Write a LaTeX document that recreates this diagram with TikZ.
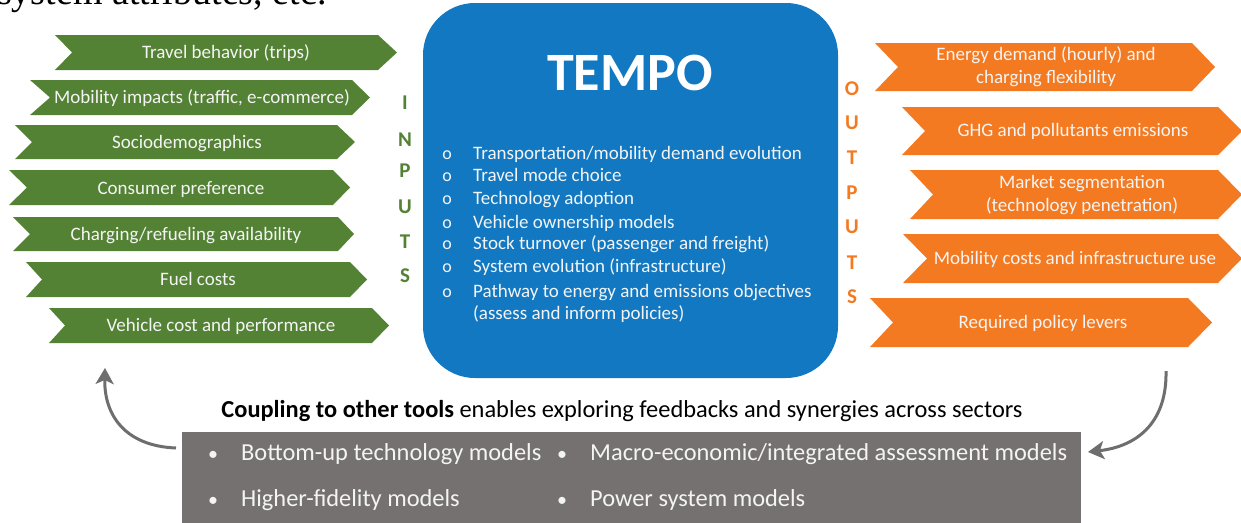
\documentclass[tikz,border=0pt]{standalone}
\usepackage{fontspec}
\setmainfont{Carlito}
\newfontfamily\docserif{Liberation Serif}
\usetikzlibrary{arrows.meta}
\definecolor{ingreen}{HTML}{548235}
\definecolor{outorange}{HTML}{F47A21}
\definecolor{tempoblue}{HTML}{1278C1}
\definecolor{couplegray}{HTML}{767171}
\definecolor{arrowgray}{HTML}{6E6E6E}
\definecolor{lighttext}{HTML}{F4F4F4}
\newcommand\chevshape[7]{% left, notch, body right, tip, top, bottom, colour
  \fill[#7] (#1,#5) -- (#3,#5) -- (#4,{(#5+#6)/2}) -- (#3,#6) -- (#1,#6) -- ({#1+#2},{(#5+#6)/2}) -- cycle;}
\tikzset{
  intext/.style={text=lighttext, font=\fontsize{19}{22}\selectfont, anchor=base, inner sep=0pt},
  outtext/.style={text=lighttext, font=\fontsize{19}{23}\selectfont, align=center, inner sep=0pt},
  inletter/.style={text=ingreen, font=\fontsize{21}{22}\selectfont\bfseries, inner sep=0pt},
  outletter/.style={text=outorange, font=\fontsize{21}{22}\selectfont\bfseries, inner sep=0pt},
  tempoitem/.style={text=lighttext, font=\fontsize{19}{22}\selectfont, anchor=base west, inner sep=0pt},
  tempobullet/.style={text=lighttext, font=\fontsize{18}{20}\selectfont, anchor=base, inner sep=0pt},
  toolitem/.style={text=lighttext, font=\fontsize{24.4}{28}\selectfont, anchor=base west, inner sep=0pt},
  toolbullet/.style={text=lighttext, font=\fontsize{20}{26}\selectfont, anchor=base, inner sep=0pt},
  loop/.style={draw=arrowgray, line width=3pt, -{Stealth[length=16pt,width=18pt,inset=4pt]}},
}
\begin{document}
\begin{tikzpicture}[x=1pt,y=-1pt]
\useasboundingbox (0,0) rectangle (1241,522);
\fill[white] (0,0) rectangle (1241,522);

% cut-off line of the surrounding text
\node[anchor=base west, inner sep=0pt, font=\docserif\fontsize{38}{40}\selectfont] (prev) at (-3,5) {system attributes, etc.};

% ---------- inputs ----------
\chevshape{55}{17}{378}{397}{35}{70}{ingreen}
\node[intext] (in1) at (226,58) {Travel behavior (trips)};
\chevshape{30}{20}{352}{370}{80}{115}{ingreen}
\node[intext] (in2) at (202,103) {Mobility impacts (traffic, e-commerce)};
\chevshape{15}{17}{337}{355}{125}{159}{ingreen}
\node[intext] (in3) at (187,148) {Sociodemographics};
\chevshape{9}{18}{333}{350}{170}{205}{ingreen}
\node[intext] (in4) at (181,194) {Consumer preference};
\chevshape{13}{17}{338}{354}{217}{251}{ingreen}
\node[intext] (in5) at (186,240) {Charging/refueling availability};
\chevshape{26}{16}{350}{367}{262}{297}{ingreen}
\node[intext] (in6) at (198,285) {Fuel costs};
\chevshape{49}{16}{372}{389}{308}{343}{ingreen}
\node[intext] (in7) at (221,331) {Vehicle cost and performance};

\node[inletter] (lI) at (405,103) {I};
\node[inletter] (lN) at (405,140) {N};
\node[inletter] (lP) at (405,171) {P};
\node[inletter] (lU) at (405,207) {U};
\node[inletter] (lT) at (405,242) {T};
\node[inletter] (lS) at (405,276) {S};

% ---------- TEMPO ----------
\node[fill=tempoblue, rounded corners=52pt, minimum width=415pt, minimum height=375pt, inner sep=0pt] (tempo) at (630.5,190.5) {};
\node[text=white, font=\fontsize{54}{60}\selectfont\bfseries, inner sep=0pt] (title) at (630,73) {TEMPO};
\foreach \y/\t [count=\i] in {159/{Transportation/mobility demand evolution},
                  181/{Travel mode choice},
                  204/{Technology adoption},
                  228/{Vehicle ownership models},
                  249/{Stock turnover (passenger and freight)},
                  272/{System evolution (infrastructure)},
                  297/{Pathway to energy and emissions objectives}}{
  \node[tempobullet] (b\i) at (447,\y) {o};
  \node[tempoitem] (t\i) at (473,\y) {\t};
}
\node[tempoitem] (t8) at (473,319) {(assess and inform policies)};

% ---------- outputs ----------
\chevshape{875}{23}{1192}{1215}{43}{91}{outorange}
\node[outtext] (out1) at (1046,67) {Energy demand (hourly) and\\charging flexibility};
\chevshape{902}{23}{1218}{1242}{107}{155}{outorange}
\node[outtext] (out2) at (1073,131) {GHG and pollutants emissions};
\chevshape{910}{23}{1218}{1242}{170}{219}{outorange}
\node[outtext] (out3) at (1082,195) {Market segmentation\\(technology penetration)};
\chevshape{903}{24}{1218}{1242}{234}{283}{outorange}
\node[outtext] (out4) at (1075,259) {Mobility costs and infrastructure use};
\chevshape{870}{23}{1188}{1212}{298}{347}{outorange}
\node[outtext] (out5) at (1043,323) {Required policy levers};

\node[outletter] (oO) at (852,89) {O};
\node[outletter] (oU) at (852,123) {U};
\node[outletter] (oT) at (852,158) {T};
\node[outletter] (oP) at (852,193) {P};
\node[outletter] (oU2) at (852,227) {U};
\node[outletter] (oT2) at (852,263) {T};
\node[outletter] (oS) at (852,297) {S};

% ---------- coupling ----------
\node[anchor=base, inner sep=0pt, font=\fontsize{24.4}{28}\selectfont] (coupling) at (622,417)
  {\textbf{Coupling to other tools} enables exploring feedbacks and synergies across sectors};
\node[fill=couplegray, minimum width=899pt, minimum height=110pt, inner sep=0pt] (tools) at (631,487) {};
\node[toolbullet] (tb1) at (213,460) {•};
\node[toolitem] (tool1) at (241,460) {Bottom-up technology models};
\node[toolbullet] (tb2) at (562,460) {•};
\node[toolitem] (tool2) at (590,460) {Macro-economic/integrated assessment models};
\node[toolbullet] (tb3) at (213,506) {•};
\node[toolitem] (tool3) at (241,506) {Higher-fidelity models};
\node[toolbullet] (tb4) at (562,506) {•};
\node[toolitem] (tool4) at (590,506) {Power system models};

% ---------- feedback arrows ----------
\coordinate (lt) at (176,448);
\coordinate (inp) at (105,368);
\coordinate (outp) at (1166,371);
\coordinate (rt) at (1088,452);
\draw[loop] (lt) .. controls (125,446) and (104,415) .. (inp);
\draw[loop] (outp) .. controls (1167,420) and (1140,446) .. (rt);
\end{tikzpicture}
\end{document}
